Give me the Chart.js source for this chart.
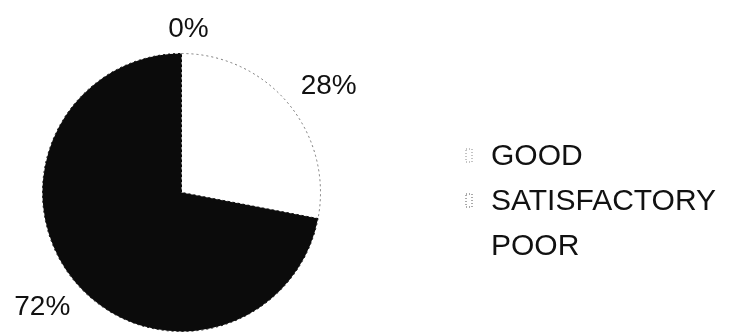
<!DOCTYPE html>
<html>
<head>
<meta charset="utf-8">
<script src="https://cdn.jsdelivr.net/npm/chart.js@4/dist/chart.umd.min.js"></script>
<style>
  html, body { margin: 0; padding: 0; background: #fff; }
  #wrap { width: 731px; height: 333px; position: relative; }
</style>
</head>
<body>
<div id="wrap"><canvas id="pieChart" width="731" height="333"></canvas></div>
<script>
// ratings split
const categories = ["GOOD", "SATISFACTORY", "POOR"];
const shares = [28, 72, 0];
const shareLabels = ["28%", "72%", "0%"];

const sliceColors = ["#ffffff", "#0b0b0b", "#ffffff"];

// percent labels placed just outside the rim
const outsideLabels = {
  id: "outsideLabels",
  afterDatasetsDraw(chart, args, opts) {
    const ctx = chart.ctx;
    const meta = chart.getDatasetMeta(0);
    ctx.save();
    ctx.font = "28px 'Liberation Sans', Arial, sans-serif";
    ctx.fillStyle = "#111";
    ctx.textAlign = "center";
    ctx.textBaseline = "middle";
    meta.data.forEach((arc, i) => {
      const p = arc.getProps(["x", "y", "startAngle", "endAngle", "outerRadius"], true);
      const mid = (p.startAngle + p.endAngle) / 2;
      const shift = opts.shift[i] || [0, 0];
      const tx = p.x + Math.cos(mid) * p.outerRadius * opts.factor + shift[0];
      const ty = p.y + Math.sin(mid) * p.outerRadius * opts.factor + shift[1];
      ctx.fillText(shareLabels[i], tx, ty);
    });
    ctx.restore();
  }
};

// legend on the right, drawn by hand so it sits where the original is
const sideLegend = {
  id: "sideLegend",
  afterDraw(chart, args, opts) {
    const ctx = chart.ctx;
    ctx.save();
    ctx.font = "30px 'Liberation Sans', Arial, sans-serif";
    ctx.textBaseline = "middle";
    ctx.textAlign = "left";
    categories.forEach((name, i) => {
      const y = opts.top + i * opts.step;
      if (opts.markers[i]) {
        ctx.strokeStyle = opts.markers[i];
        ctx.lineWidth = 1;
        ctx.setLineDash([1, 2]);
        ctx.strokeRect(opts.x - 25, y - 7, 6, 13);
        ctx.setLineDash([]);
      }
      ctx.fillStyle = "#111";
      ctx.fillText(name, opts.x, y + 1);
    });
    ctx.restore();
  }
};

const ctx = document.getElementById("pieChart").getContext("2d");
const chart = new Chart(ctx, {
  type: "pie",
  data: {
    labels: categories,
    datasets: [{
      data: shares,
      backgroundColor: sliceColors,
      borderColor: ["#777", "#0b0b0b", "#777"],
      borderWidth: 1,
      borderDash: [2, 3]
    }]
  },
  options: {
    responsive: false,
    animation: false,
    layout: { padding: { left: 42, top: 53, right: 410, bottom: 1 } },
    plugins: {
      legend: { display: false },
      tooltip: { enabled: false },
      outsideLabels: {
        factor: 1.3,
        shift: [[8, 9], [0, 0], [7, 17]]
      },
      sideLegend: {
        x: 491,
        top: 156,
        step: 45,
        markers: ["#888", "#555", null]
      }
    }
  },
  plugins: [outsideLabels, sideLegend]
});
</script>
</body>
</html>
